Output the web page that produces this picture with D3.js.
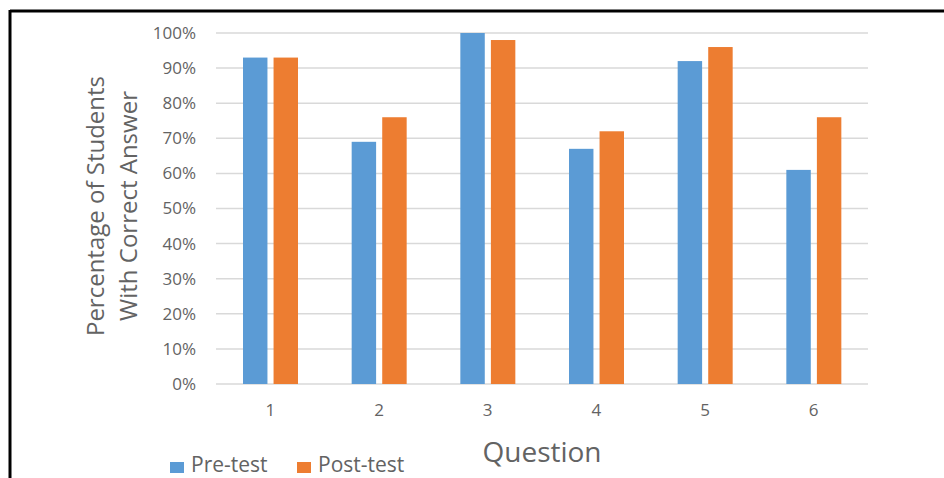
<!DOCTYPE html>
<html>
<head>
<meta charset="utf-8">
<script src="https://cdn.jsdelivr.net/npm/d3@7"></script>
<style>
  body { margin: 0; background: #fff; }
  svg { display: block; font-family: "Open Sans", "DejaVu Sans", sans-serif; }
</style>
</head>
<body>
<svg id="chart" width="944" height="478"></svg>
<script>
// chart data
const questions = ["1", "2", "3", "4", "5", "6"];
const series = ["Pre-test", "Post-test"];
const preTest = [93, 69, 100, 67, 92, 61];
const postTest = [93, 76, 98, 72, 96, 76];
const yTicks = [0, 10, 20, 30, 40, 50, 60, 70, 80, 90, 100];

const colors = ["#5b9bd5", "#ed7d31"];
const textColor = "#636363";

const svg = d3.select("#chart");

// black frame (only top and left visible in the original crop)
svg.append("line")
    .attr("x1", 10).attr("y1", 11).attr("x2", 944).attr("y2", 11)
    .attr("stroke", "#000").attr("stroke-width", 3);
svg.append("line")
    .attr("x1", 10).attr("y1", 10).attr("x2", 10).attr("y2", 478)
    .attr("stroke", "#000").attr("stroke-width", 3);

const plot = {left: 216, right: 868, top: 33, bottom: 384};

let x0 = d3.scaleBand().domain(questions).range([plot.left, plot.right]).padding(0);
let x1 = d3.scaleBand().domain(series).range([27, 82]).paddingInner(0.2).paddingOuter(0);
let y = d3.scaleLinear().domain([0, 100]).range([plot.bottom, plot.top]);

// gridlines
svg.append("g")
    .selectAll("line")
    .data(yTicks)
    .enter()
    .append("line")
    .attr("x1", plot.left)
    .attr("x2", plot.right)
    .attr("y1", d => y(d))
    .attr("y2", d => y(d))
    .attr("stroke", "#d9d9d9")
    .attr("stroke-width", 1.5);

// y axis labels
const yAxis = svg.append("g")
    .attr("transform", "translate(" + (plot.left - 20) + ",0)")
    .call(d3.axisLeft(y).tickValues(yTicks).tickFormat(d => d + "%").tickSize(0).tickPadding(0));
yAxis.select(".domain").remove();
yAxis.selectAll("text")
    .attr("fill", textColor)
    .attr("font-size", "17px")
    .attr("font-family", "\"Open Sans\", sans-serif");

// x axis labels
const xAxis = svg.append("g")
    .attr("transform", "translate(0," + plot.bottom + ")")
    .call(d3.axisBottom(x0).tickSize(0).tickPadding(20));
xAxis.select(".domain").remove();
xAxis.selectAll("text")
    .attr("fill", textColor)
    .attr("font-size", "17px")
    .attr("font-family", "\"Open Sans\", sans-serif");

// bars
let rows = questions.map((q, i) => ({q: q, values: [preTest[i], postTest[i]]}));

svg.append("g")
    .selectAll("g")
    .data(rows)
    .enter()
    .append("g")
    .attr("transform", d => "translate(" + x0(d.q) + ",0)")
    .selectAll("rect")
    .data(d => d.values.map((v, i) => ({s: series[i], v: v, c: colors[i]})))
    .enter()
    .append("rect")
    .attr("x", d => x1(d.s))
    .attr("width", x1.bandwidth())
    .attr("y", d => y(d.v))
    .attr("height", d => y(0) - y(d.v))
    .attr("fill", d => d.c);

// y axis title
svg.append("text")
    .attr("transform", "translate(96,206) rotate(-90)")
    .attr("text-anchor", "middle")
    .attr("fill", textColor)
    .attr("font-size", "24px")
    .selectAll("tspan")
    .data(["Percentage of Students", "With Correct Answer"])
    .enter()
    .append("tspan")
    .attr("x", 0)
    .attr("dy", (d, i) => i === 0 ? "0.35em" : "33px")
    .text(d => d);

// x axis title
svg.append("text")
    .attr("x", 542)
    .attr("y", 462)
    .attr("text-anchor", "middle")
    .attr("fill", textColor)
    .attr("font-size", "28px")
    .text("Question");

// legend
const legend = svg.append("g").attr("class", "legend");
const legendX = [170, 297];
legend.selectAll("rect")
    .data(series)
    .enter()
    .append("rect")
    .attr("x", (d, i) => legendX[i])
    .attr("y", 462)
    .attr("width", 14)
    .attr("height", 11)
    .attr("fill", (d, i) => colors[i]);
legend.selectAll("text")
    .data(series)
    .enter()
    .append("text")
    .attr("x", (d, i) => legendX[i] + 21)
    .attr("y", 472)
    .attr("fill", textColor)
    .attr("font-size", "21px")
    .text(d => d);
</script>
</body>
</html>
